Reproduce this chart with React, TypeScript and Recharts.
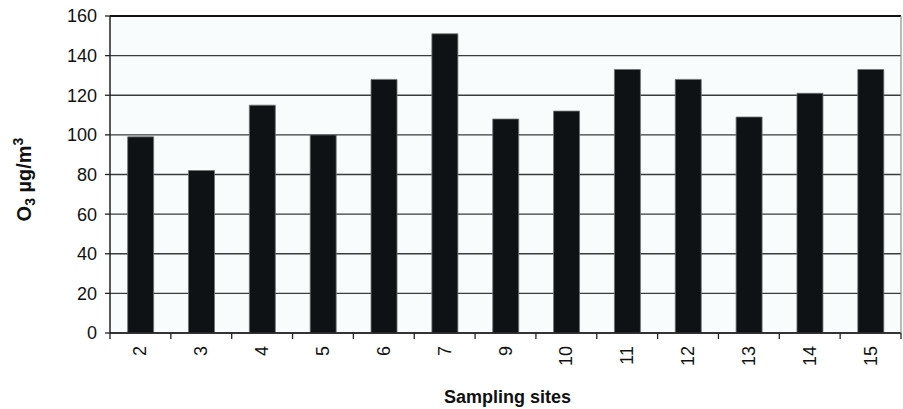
import { BarChart, Bar, XAxis, YAxis, CartesianGrid, ReferenceLine } from "recharts";

const sites = ["2", "3", "4", "5", "6", "7", "9", "10", "11", "12", "13", "14", "15"];
const o3Values = [99, 82, 115, 100, 128, 151, 108, 112, 133, 128, 109, 121, 133];
const yTicks = [0, 20, 40, 60, 80, 100, 120, 140, 160];

const chartData = sites.map((site, i) => ({ site, o3: o3Values[i] }));

const WIDTH = 903;
const HEIGHT = 409;
const Y_AXIS_W = 110;
const RIGHT_AXIS_W = 2;
const PLOT_W = WIDTH - Y_AXIS_W - RIGHT_AXIS_W;
const STEP = PLOT_W / sites.length;
const FONT = "'Liberation Sans', Arial, sans-serif";

function SiteTick(props: any) {
  const { x, y, payload, index } = props;
  const last = index === sites.length - 1;
  return (
    <g>
      <line x1={x - STEP / 2} x2={x - STEP / 2} y1={y} y2={y + 6} stroke="#222" strokeWidth={1.3} />
      {last && <line x1={x + STEP / 2} x2={x + STEP / 2} y1={y} y2={y + 6} stroke="#222" strokeWidth={1.3} />}
      <text
        transform={`translate(${x + 6},${y + 13}) rotate(-90)`}
        textAnchor="end"
        fontSize={18}
        fontFamily={FONT}
        fill="#111"
      >
        {payload.value}
      </text>
    </g>
  );
}

function YLabel(props: any) {
  const vb = props.viewBox;
  const cx = vb.x + 31;
  const cy = vb.y + vb.height / 2 + 5;
  return (
    <text
      transform={`translate(${cx},${cy}) rotate(-90)`}
      textAnchor="middle"
      fontSize={20}
      fontWeight="bold"
      fontFamily={FONT}
      fill="#111"
    >
      O<tspan fontSize={14} dy={4}>3</tspan>
      <tspan dy={-4}> µg/m</tspan>
      <tspan fontSize={14} dy={-8}>3</tspan>
    </text>
  );
}

function XLabel(props: any) {
  const vb = props.viewBox;
  return (
    <text
      x={vb.x + vb.width / 2 + 2}
      y={vb.y + 70}
      textAnchor="middle"
      fontSize={18}
      fontWeight="bold"
      fontFamily={FONT}
      fill="#111"
    >
      Sampling sites
    </text>
  );
}

export default function App() {
  return (
    <div style={{ position: "absolute", left: 0, top: 0, background: "#fff" }}>
      <BarChart
        width={WIDTH}
        height={HEIGHT}
        data={chartData}
        margin={{ top: 16, right: 0, bottom: 0, left: 0 }}
        barCategoryGap="29%"
      >
        <CartesianGrid
          yAxisId="left"
          horizontal
          vertical={false}
          stroke="#3a3d3f"
          strokeWidth={1.4}
          fill="#f8fcfd"
        />
        <XAxis
          dataKey="site"
          height={76}
          tickLine={false}
          tickSize={0}
          tickMargin={0}
          axisLine={{ stroke: "#222", strokeWidth: 1.5 }}
          tick={<SiteTick />}
          interval={0}
          label={<XLabel />}
        />
        <YAxis
          yAxisId="left"
          width={Y_AXIS_W}
          domain={[0, 160]}
          ticks={yTicks}
          interval={0}
          tickSize={5}
          tickMargin={8}
          tickLine={{ stroke: "#222", strokeWidth: 1.3 }}
          axisLine={{ stroke: "#222", strokeWidth: 1.5 }}
          tick={{ fontSize: 18, fontFamily: FONT, fill: "#111" }}
          label={<YLabel />}
        />
        <YAxis
          yAxisId="right"
          orientation="right"
          width={RIGHT_AXIS_W}
          domain={[0, 160]}
          ticks={yTicks}
          tick={false}
          tickLine={false}
          axisLine={{ stroke: "#8a8d8f", strokeWidth: 1.2 }}
        />
        <ReferenceLine yAxisId="left" y={160} stroke="#111" strokeWidth={2.2} />
        <Bar
          yAxisId="left"
          dataKey="o3"
          fill="#0e1214"
          stroke="#6e7274"
          strokeWidth={0.8}
          isAnimationActive={false}
        />
      </BarChart>
    </div>
  );
}
